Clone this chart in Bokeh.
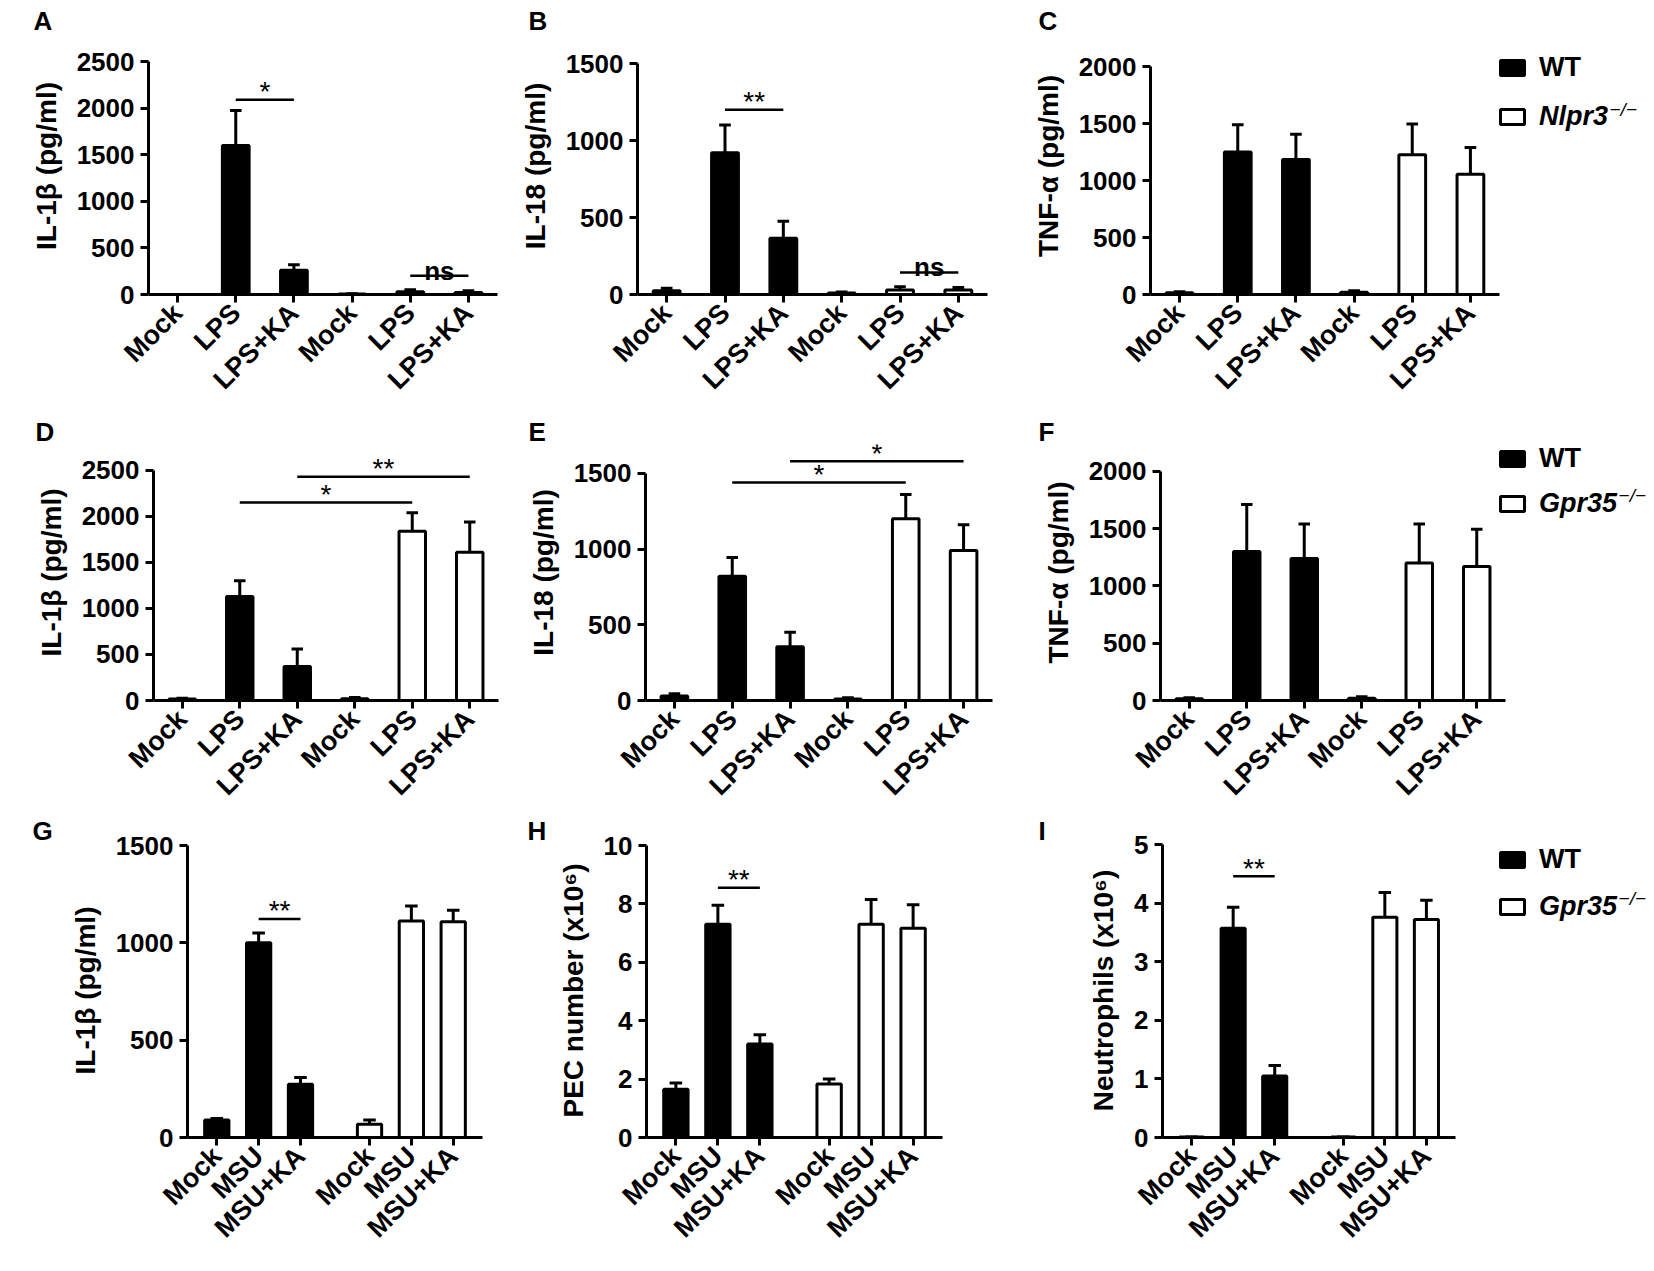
import math
from bokeh.plotting import figure
from bokeh.layouts import row, column
from bokeh.models import Range1d, FixedTicker, Label, Legend, LegendItem
from bokeh.core.properties import value
from bokeh.embed import file_html
from bokeh.resources import INLINE

FONT = "Liberation Sans"

# ---------------- data ----------------
lps_treatments = ["Mock", "LPS", "LPS+KA"]
msu_treatments = ["Mock", "MSU", "MSU+KA"]

# A: IL-1beta, WT vs Nlpr3-/-
a_wt = [0, 1600, 260]
a_wt_err = [0, 375, 60]
a_ko = [5, 30, 22]
a_ko_err = [3, 20, 18]
# B: IL-18, WT vs Nlpr3-/-
b_wt = [25, 920, 365]
b_wt_err = [15, 180, 110]
b_ko = [10, 30, 30]
b_ko_err = [6, 20, 15]
# C: TNF-alpha, WT vs Nlpr3-/-
c_wt = [15, 1250, 1185]
c_wt_err = [10, 240, 220]
c_ko = [20, 1225, 1055]
c_ko_err = [12, 270, 235]
# D: IL-1beta, WT vs Gpr35-/-
d_wt = [15, 1130, 370]
d_wt_err = [10, 170, 190]
d_ko = [20, 1840, 1610]
d_ko_err = [12, 200, 330]
# E: IL-18, WT vs Gpr35-/-
e_wt = [30, 820, 355]
e_wt_err = [15, 125, 95]
e_ko = [10, 1200, 990]
e_ko_err = [8, 160, 170]
# F: TNF-alpha, WT vs Gpr35-/-
f_wt = [15, 1300, 1240]
f_wt_err = [10, 410, 300]
f_ko = [20, 1200, 1170]
f_ko_err = [12, 340, 325]
# G: IL-1beta (MSU), WT vs Gpr35-/-
g_wt = [90, 1000, 273]
g_wt_err = [8, 50, 35]
g_ko = [68, 1112, 1108]
g_ko_err = [22, 77, 60]
# H: PEC number (x10^6)
h_wt = [1.65, 7.3, 3.2]
h_wt_err = [0.22, 0.65, 0.32]
h_ko = [1.83, 7.3, 7.17]
h_ko_err = [0.17, 0.85, 0.8]
# I: Neutrophils (x10^6)
i_wt = [0.01, 3.57, 1.05]
i_wt_err = [0, 0.36, 0.18]
i_ko = [0.01, 3.76, 3.72]
i_ko_err = [0, 0.42, 0.33]

# significance: (from bar index, to bar index, height, label)
a_sig = [(1, 2, 2090, "*"), (4, 5, 200, "ns")]
b_sig = [(1, 2, 1200, "**"), (4, 5, 143, "ns")]
c_sig = []
d_sig = [(1, 4, 2150, "*"), (2, 5, 2430, "**")]
e_sig = [(1, 4, 1440, "*"), (2, 5, 1580, "*")]
f_sig = []
g_sig = [(1, 2, 1123, "**")]
h_sig = [(1, 2, 8.55, "**")]
i_sig = [(1, 2, 4.46, "**")]

ticks_2500 = [0, 500, 1000, 1500, 2000, 2500]
ticks_1500 = [0, 500, 1000, 1500]
ticks_2000 = [0, 500, 1000, 1500, 2000]
ticks_10 = [0, 2, 4, 6, 8, 10]
ticks_5 = [0, 1, 2, 3, 4, 5]

label_il1b = "IL-1β (pg/ml)"
label_il18 = "IL-18 (pg/ml)"
label_tnf = "TNF-α (pg/ml)"
label_pec = "PEC number (x10⁶)"
label_neu = "Neutrophils (x10⁶)"

# ---------------- layout geometry (page pixels, layout origin = page 0,0) ----------------
BI_WIDTH = {"N": 722, "l": 278, "p": 611, "r": 389, "3": 556, "G": 778, "5": 556}
LEG_FONT = 27
LEG_ITEM_H = 29
LEG_GW, LEG_GH, LEG_STANDOFF = 30, 19, 12


def make_panel(letter, treatments, wt, wt_err, ko, ko_err, sig, yticks, ylabel, geo, legend=None):
    gap = geo["gap"]
    pos = [i + (gap if i >= 3 else 0) for i in range(6)]
    pad = geo["xpad"]
    ax_l, ax_r = geo["axis_x"]          # page x of y axis and of the end of x axis
    fig_l, fig_r = geo["fig_x"]
    row_t, row_b, top_pad, title_standoff = geo["row"]
    fb = geo["zero_y"]                  # page y of value 0 (frame bottom)
    tick_px = geo["top_tick_y"]         # page y of the top tick
    ft = row_t + top_pad
    yend = max(yticks[-1] * (fb - ft) / (fb - tick_px), yticks[-1] * 1.003)
    ppu_y = (fb - ft) / yend

    x0 = pos[0] - pad
    x1 = pos[-1] + pad
    ppu = (ax_r - ax_l) / (x1 - x0)
    frame_r = fig_r if legend is not None else ax_r
    xend = x0 + (frame_r - ax_l) / ppu

    p = figure(width=fig_r - fig_l, height=row_b - row_t,
               x_range=Range1d(x0, xend), y_range=Range1d(0, yend),
               min_border_left=ax_l - fig_l, min_border_right=fig_r - frame_r,
               min_border_top=top_pad, min_border_bottom=row_b - fb,
               toolbar_location=None, output_backend="svg", title=letter,
               outline_line_color=None, background_fill_color="white",
               border_fill_color="white")
    p.grid.visible = False

    # panel letter (title), shifted left of the y axis
    p.title.text_font = FONT
    p.title.text_font_size = "26px"
    p.title.text_font_style = "bold"
    p.title.text_color = "black"
    p.title.align = "left"
    p.title.vertical_align = "bottom"
    p.title.standoff = title_standoff
    p.title.offset = geo["letter_x"] - ax_l

    bw = geo["bar_w"]
    wt_r = p.vbar(x=pos[:3], top=wt, width=bw, bottom=0, fill_color="black",
                  line_color="black", line_width=3)
    ko_r = p.vbar(x=pos[3:], top=ko, width=bw, bottom=0, fill_color="white",
                  line_color="black", line_width=3)

    vals = list(wt) + list(ko)
    errs = list(wt_err) + list(ko_err)
    tops = [v + e for v, e in zip(vals, errs)]
    hw = geo["cap_hw"]
    p.segment(x0=pos, y0=vals, x1=pos, y1=tops, line_color="black", line_width=3)
    p.segment(x0=[x - hw for x in pos], y0=tops, x1=[x + hw for x in pos], y1=tops,
              line_color="black", line_width=3)

    for a, b, h, txt in sig:
        p.segment(x0=[pos[a]], y0=[h], x1=[pos[b]], y1=[h], line_color="black", line_width=2.5)
        if txt == "ns":
            p.text(x=[(pos[a] + pos[b]) / 2], y=[h + 5 / ppu_y], text=[txt], text_align="center",
                   text_baseline="alphabetic", text_font=value(FONT), text_font_size="26px",
                   text_font_style="bold", text_color="black")
        else:
            p.text(x=[(pos[a] + pos[b]) / 2], y=[h + 8 / ppu_y], text=[txt], text_align="center",
                   text_baseline="alphabetic", text_font=value(FONT), text_font_size="28px",
                   text_font_style="normal", text_color="black")

    xa, ya = p.xaxis[0], p.yaxis[0]
    for ax in (xa, ya):
        ax.axis_line_width = 3
        ax.axis_line_color = "black"
        ax.major_tick_line_width = 3
        ax.major_tick_line_color = "black"
        ax.major_tick_out = 8
        ax.major_tick_in = 0
        ax.minor_tick_out = 0
        ax.minor_tick_in = 0
        ax.major_label_text_font = FONT
        ax.major_label_text_font_style = "bold"
        ax.major_label_text_color = "black"
    ya.ticker = FixedTicker(ticks=yticks, minor_ticks=[])
    ya.bounds = (0, yticks[-1])
    ya.major_label_text_font_size = "26px"
    ya.major_label_standoff = 6
    ya.axis_label = ylabel
    ya.axis_label_text_font = FONT
    ya.axis_label_text_font_size = "28px"
    ya.axis_label_text_font_style = "bold"
    ya.axis_label_text_color = "black"
    ya.axis_label_standoff = 12
    xa.bounds = (x0, x1)
    xa.ticker = FixedTicker(ticks=pos, minor_ticks=[])
    xa.major_label_overrides = {x: t for x, t in zip(pos, treatments + treatments)}
    xa.major_label_orientation = math.pi / 4
    xa.major_label_text_font_size = "27px"
    xa.major_label_standoff = 6

    if legend is not None:
        sx = legend["x"] - ax_l
        for rend, lab, cy, style in ((wt_r, "WT", legend["wt_y"], "bold"),
                                     (ko_r, legend["ko"], legend["ko_y"], "bold italic")):
            vy = fb - cy - LEG_ITEM_H / 2
            lg = Legend(items=[LegendItem(label=lab, renderers=[rend])],
                        location=(sx, vy), orientation="vertical",
                        glyph_width=LEG_GW, glyph_height=LEG_GH, label_standoff=LEG_STANDOFF,
                        label_text_font=FONT, label_text_font_size=f"{LEG_FONT}px",
                        label_text_font_style=style, label_text_color="black",
                        padding=0, margin=0, spacing=0,
                        border_line_color=None, background_fill_alpha=0)
            p.add_layout(lg)
        tw = sum(BI_WIDTH[ch] for ch in legend["ko"]) / 1000 * LEG_FONT
        p.add_layout(Label(x=sx + LEG_GW + LEG_STANDOFF + tw + 1, y=fb - legend["ko_y"] + 9,
                           x_units="screen", y_units="screen", text="−/−",
                           text_font=FONT, text_font_size="19px", text_font_style="italic",
                           text_color="black", text_baseline="alphabetic", text_align="left"))
    return p


# rows: (top, bottom, frame top offset, title standoff)
R1 = (0, 415, 37, 4)
R2 = (415, 814, 29, -4)
R3 = (814, 1271, 29, -4)
Z1, Z2, Z3 = 294, 701, 1137
SIX = dict(gap=0, xpad=0.5, bar_w=0.46, cap_hw=0.1)
MSU = dict(gap=0.65, xpad=0.7, bar_w=0.58, cap_hw=0.15)

pA = make_panel("A", lps_treatments, a_wt, a_wt_err, a_ko, a_ko_err, a_sig, ticks_2500, label_il1b,
                dict(SIX, fig_x=(0, 515), axis_x=(148, 497), row=R1, zero_y=Z1, top_tick_y=61, letter_x=33))
pB = make_panel("B", lps_treatments, b_wt, b_wt_err, b_ko, b_ko_err, b_sig, ticks_1500, label_il18,
                dict(SIX, fig_x=(515, 1028), axis_x=(637, 987), row=R1, zero_y=Z1, top_tick_y=63, letter_x=528))
pC = make_panel("C", lps_treatments, c_wt, c_wt_err, c_ko, c_ko_err, c_sig, ticks_2000, label_tnf,
                dict(SIX, fig_x=(1028, 1654), axis_x=(1150, 1499), row=R1, zero_y=Z1, top_tick_y=66, letter_x=1038),
                legend=dict(x=1497, wt_y=68, ko_y=117.5, ko="Nlpr3"))

pD = make_panel("D", lps_treatments, d_wt, d_wt_err, d_ko, d_ko_err, d_sig, ticks_2500, label_il1b,
                dict(SIX, fig_x=(0, 515), axis_x=(153, 498), row=R2, zero_y=Z2, top_tick_y=470, letter_x=35))
pE = make_panel("E", lps_treatments, e_wt, e_wt_err, e_ko, e_ko_err, e_sig, ticks_1500, label_il18,
                dict(SIX, fig_x=(515, 1030), axis_x=(645, 992), row=R2, zero_y=Z2, top_tick_y=473, letter_x=528))
pF = make_panel("F", lps_treatments, f_wt, f_wt_err, f_ko, f_ko_err, f_sig, ticks_2000, label_tnf,
                dict(SIX, fig_x=(1030, 1654), axis_x=(1160, 1505), row=R2, zero_y=Z2, top_tick_y=471, letter_x=1038),
                legend=dict(x=1497, wt_y=460, ko_y=505, ko="Gpr35"))

pG = make_panel("G", msu_treatments, g_wt, g_wt_err, g_ko, g_ko_err, g_sig, ticks_1500, label_il1b,
                dict(MSU, fig_x=(0, 520), axis_x=(187, 482), row=R3, zero_y=Z3, top_tick_y=845, letter_x=32))
pH = make_panel("H", msu_treatments, h_wt, h_wt_err, h_ko, h_ko_err, h_sig, ticks_10, label_pec,
                dict(MSU, fig_x=(520, 1030), axis_x=(646, 942), row=R3, zero_y=Z3, top_tick_y=845, letter_x=527))
pI = make_panel("I", msu_treatments, i_wt, i_wt_err, i_ko, i_ko_err, i_sig, ticks_5, label_neu,
                dict(MSU, fig_x=(1030, 1654), axis_x=(1162, 1455), row=R3, zero_y=Z3, top_tick_y=844, letter_x=1038),
                legend=dict(x=1497, wt_y=860, ko_y=907, ko="Gpr35"))

layout = column(row(pA, pB, pC, spacing=0), row(pD, pE, pF, spacing=0), row(pG, pH, pI, spacing=0), spacing=0)

with open("out.html", "w") as fh:
    fh.write(file_html(layout, INLINE, "Figure"))
